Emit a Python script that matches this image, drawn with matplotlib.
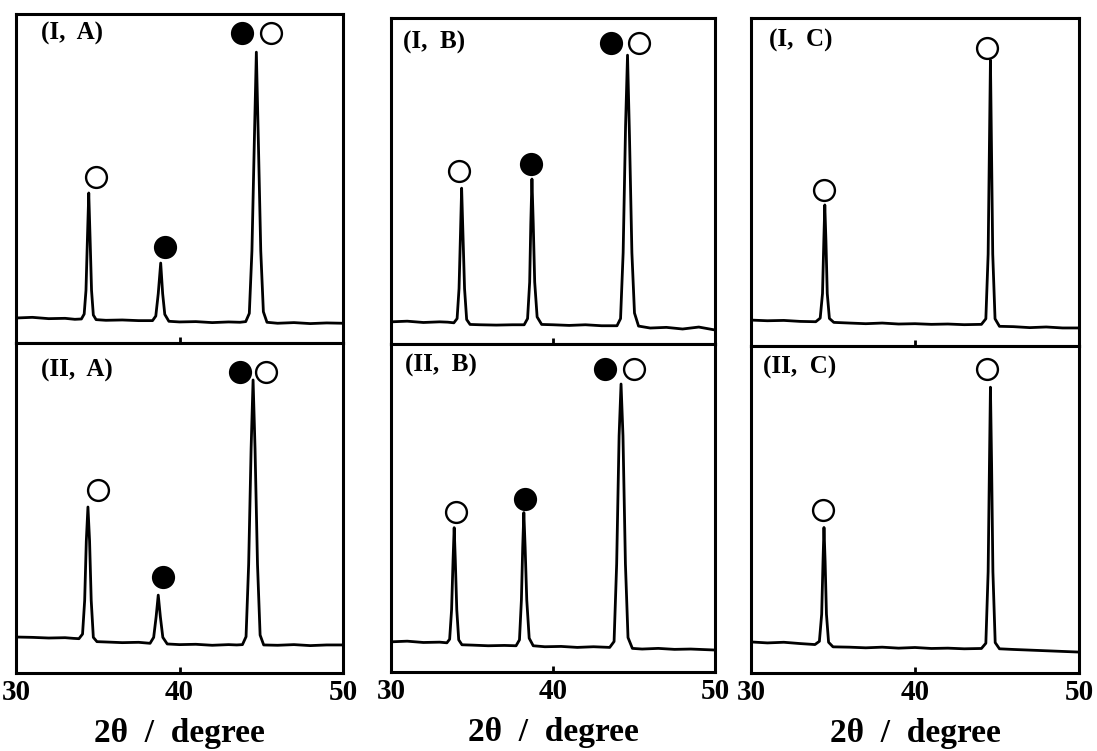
import matplotlib.pyplot as plt

plt.rcParams['font.family'] = ['Liberation Serif', 'DejaVu Serif']
plt.rcParams['font.weight'] = 'bold'

W, H = 1097, 751

panel_labels = ["(I,  A)", "(II,  A)", "(I,  B)", "(II,  B)", "(I,  C)", "(II,  C)"]
x_ticks = [30, 40, 50]
x_label = "2\u03b8  /  degree"

# traces: 2theta (deg), intensity (0-100 per panel)
ia_x = [30, 31, 32, 33, 33.6, 34.0, 34.17, 34.28, 34.37, 34.45, 34.53, 34.62, 34.73, 34.9, 35.5,
        36.5, 37.5, 38.35, 38.55, 38.7, 38.85, 38.97, 39.1, 39.35, 40, 41, 42, 43, 43.7,
        44.05, 44.27, 44.43, 44.58, 44.7, 44.82, 44.97, 45.13, 45.35, 46, 47, 48, 49, 50]
ia_y = [7.6, 7.8, 7.4, 7.5, 7.2, 7.3, 8.8, 16, 32, 45.6, 32, 16, 8.5, 7.1, 6.9,
        7.0, 6.8, 6.8, 8.2, 15, 24.3, 15, 8.7, 6.6, 6.4, 6.5, 6.2, 6.4, 6.3,
        6.5, 9.0, 28, 62, 88.4, 62, 28, 9.5, 6.3, 6.0, 6.2, 5.9, 6.1, 6.0]

iia_x = [30, 31, 32, 33, 33.5, 33.85, 34.07, 34.2, 34.3, 34.4, 34.5, 34.6, 34.73, 34.95, 35.5,
         36.5, 37.5, 38.2, 38.42, 38.57, 38.7, 38.83, 38.98, 39.25, 40, 41, 42, 43, 43.5,
         43.85, 44.07, 44.23, 44.38, 44.5, 44.62, 44.77, 44.93, 45.15, 46, 47, 48, 49, 50]
iia_y = [10.9, 10.8, 10.6, 10.7, 10.5, 10.4, 11.8, 22, 40, 50.3, 40, 22, 10.8, 9.5, 9.4,
         9.2, 9.3, 9.0, 10.8, 17, 23.6, 17, 10.8, 8.8, 8.6, 8.7, 8.4, 8.6, 8.5,
         8.6, 11, 33, 68, 88.8, 68, 33, 11.5, 8.5, 8.4, 8.6, 8.3, 8.5, 8.5]

ib_x = [30, 31, 32, 33, 33.5, 33.88, 34.08, 34.2, 34.29, 34.36, 34.44, 34.54, 34.67, 34.88, 35.5,
        36.5, 37.5, 38.22, 38.43, 38.56, 38.63, 38.7, 38.78, 38.87, 39.02, 39.3, 40, 41, 42, 43,
        43.95, 44.17, 44.33, 44.48, 44.6, 44.72, 44.87, 45.03, 45.28, 46, 47, 48, 49, 50]
ib_y = [6.8, 7.0, 6.6, 6.8, 6.7, 6.5, 7.8, 17, 34, 47.8, 34, 17, 7.5, 6.0, 5.9,
        5.8, 5.9, 5.9, 7.8, 19, 37, 50.6, 37, 19, 8.3, 6.0, 5.9, 5.7, 5.9, 5.6,
        5.6, 7.8, 28, 67, 88.6, 64, 28, 9.5, 5.5, 4.9, 5.1, 4.6, 5.2, 4.3]

iib_x = [30, 31, 32, 33, 33.45, 33.62, 33.74, 33.83, 33.9, 33.97, 34.06, 34.18, 34.38, 35, 36,
         37, 37.72, 37.93, 38.05, 38.13, 38.2, 38.28, 38.38, 38.53, 38.78, 39.5, 40.5, 41.5, 42.5,
         43.5, 43.77, 43.93, 44.08, 44.2, 44.32, 44.47, 44.63, 44.9, 45.5, 46.5, 47.5, 48.5, 50]
iib_y = [9.2, 9.4, 9.0, 9.1, 8.9, 10.0, 19, 34, 44.0, 34, 19, 9.8, 8.3, 8.2, 8.0,
         8.1, 8.0, 9.8, 22, 38, 48.6, 38, 22, 10.3, 8.0, 7.7, 7.8, 7.5, 7.7,
         7.5, 9.3, 33, 72, 87.8, 72, 33, 10.5, 7.2, 7.0, 7.2, 6.9, 7.0, 6.7]

ic_x = [30, 31, 32, 33, 33.95, 34.22, 34.36, 34.44, 34.5, 34.57, 34.65, 34.78, 35.05, 36, 37,
        38, 39, 40, 41, 42, 43, 44.05, 44.32, 44.46, 44.54, 44.6, 44.66, 44.74, 44.88, 45.15,
        46, 47, 48, 49, 50]
ic_y = [7.9, 7.7, 7.8, 7.5, 7.4, 8.5, 16, 32, 43, 32, 16, 8.4, 7.2, 7.0, 6.8,
        7.0, 6.7, 6.8, 6.6, 6.7, 6.5, 6.6, 8.3, 28, 62, 87.2, 62, 28, 8.3, 6.0,
        5.9, 5.6, 5.8, 5.5, 5.5]

iic_x = [30, 31, 32, 33, 33.9, 34.17, 34.31, 34.39, 34.45, 34.52, 34.6, 34.73, 35.0, 36, 37,
         38, 39, 40, 41, 42, 43, 44.05, 44.32, 44.46, 44.54, 44.6, 44.67, 44.75, 44.89, 45.15,
         46, 47, 48, 49, 50]
iic_y = [9.5, 9.2, 9.4, 9.0, 8.7, 9.7, 18, 34, 44.5, 34, 18, 9.4, 8.0, 7.9, 7.7,
         7.9, 7.6, 7.8, 7.5, 7.6, 7.4, 7.5, 9.1, 31, 64, 87.4, 64, 31, 9.3, 7.4,
         7.2, 7.0, 6.8, 6.6, 6.4]

# phase markers: x, y, filled?
ia_mk = [(34.9, 50.5, False), (39.1, 29.2, True), (43.8, 94.2, True), (45.6, 94.2, False)]
iia_mk = [(35.0, 55.5, False), (39.0, 29.1, True), (43.7, 91.2, True), (45.3, 91.2, False)]
ib_mk = [(34.2, 53.1, False), (38.65, 55.2, True), (43.6, 92.3, True), (45.3, 92.3, False)]
iib_mk = [(34.0, 48.9, False), (38.3, 52.6, True), (43.2, 92.4, True), (45.0, 92.4, False)]
ic_mk = [(34.45, 47.6, False), (44.4, 90.9, False)]
iic_mk = [(34.4, 49.7, False), (44.4, 93.0, False)]

# label anchor (x, y) in data units
label_pos = [(31.5, 94.2), (31.5, 91.8), (30.75, 92.6), (30.85, 93.6), (31.1, 93.3), (30.75, 93.5)]

traces = [(ia_x, ia_y), (iia_x, iia_y), (ib_x, ib_y), (iib_x, iib_y), (ic_x, ic_y), (iic_x, iic_y)]
markers = [ia_mk, iia_mk, ib_mk, iib_mk, ic_mk, iic_mk]

# pixel boxes: left, right, top, bottom
boxes = [(16, 343, 14, 343), (16, 343, 343, 673),
         (391, 715, 18, 344), (391, 715, 344, 672),
         (751, 1079, 18, 346), (751, 1079, 346, 673)]


def main():
    fig = plt.figure(figsize=(W / 100, H / 100), dpi=100)
    for i in range(6):
        l, r, t, b = boxes[i]
        ax = fig.add_axes([l / W, (H - b) / H, (r - l) / W, (b - t) / H])
        x, y = traces[i]
        ax.plot(x, y, color='black', lw=2.0, solid_joinstyle='round')
        for mx, my, filled in markers[i]:
            ax.plot(mx, my, 'o', ms=15, mec='black', mew=1.7,
                    mfc='black' if filled else 'white')
        lx, ly = label_pos[i]
        ax.text(lx, ly, panel_labels[i], fontsize=18, fontweight='bold',
                ha='left', va='center')
        ax.set_xlim(30, 50)
        ax.set_ylim(0, 100)
        ax.set_yticks([])
        for s in ax.spines.values():
            s.set_linewidth(2.2)
        ax.set_xticks([40])
        ax.tick_params(axis='x', direction='in', length=4, width=2, labelbottom=False)
        if i % 2 == 1:
            ax.set_xticks(x_ticks)
            ax.set_xticklabels([str(v) for v in x_ticks])
            ax.tick_params(axis='x', labelbottom=True, labelsize=21, pad=4)
            for tk in ax.xaxis.get_major_ticks():
                if tk.get_loc() != 40:
                    tk.tick1line.set_visible(False)
            ax.set_xlabel(x_label, fontsize=24, fontweight='bold', labelpad=9)
    fig.savefig("out.png", dpi=100)


if __name__ == "__main__":
    main()
